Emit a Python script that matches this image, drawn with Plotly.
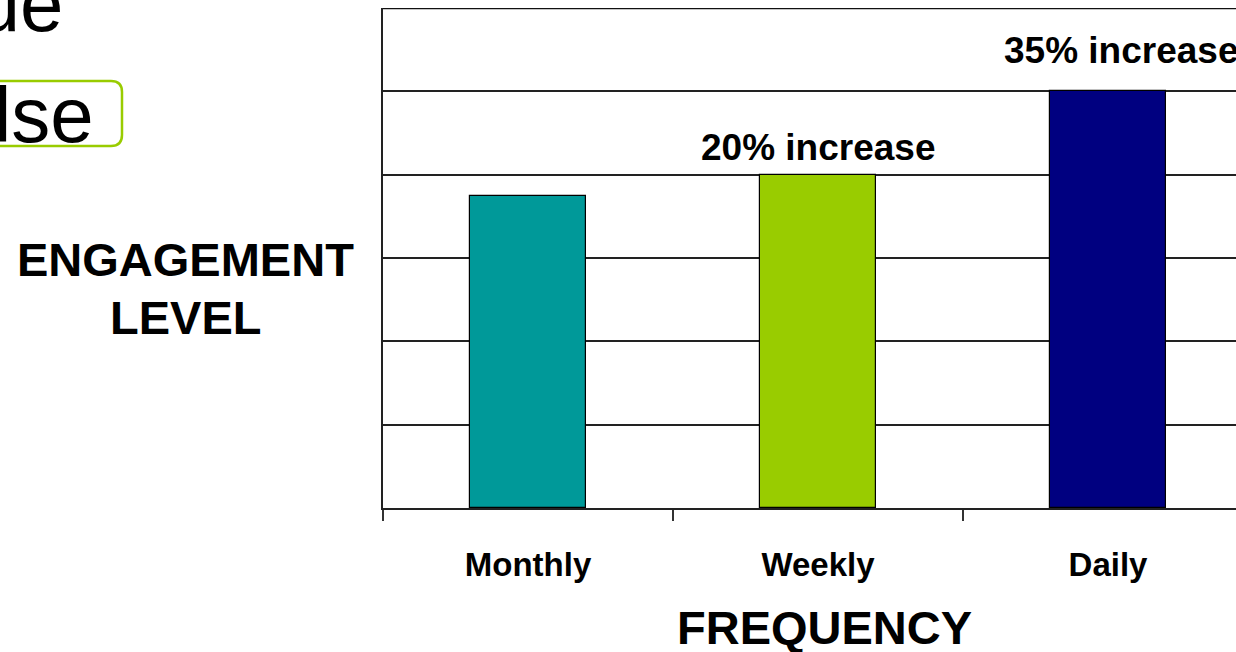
import plotly.graph_objects as go

# Engagement level by contact frequency
categories = ["Monthly", "Weekly", "Daily"]
engagement = [3.75, 4.0, 5.0]
bar_colors = ["#009999", "#99CC00", "#000080"]
increase_labels = ["", "20% increase", "35% increase"]
y_gridlines = [0, 1, 2, 3, 4, 5, 6]

W, H = 1236, 652
L, R, T, B = 383, 0, 8, 144
FONT = "Arial, Liberation Sans, sans-serif"

fig = go.Figure()
fig.add_trace(go.Bar(
    x=categories,
    y=engagement,
    width=0.4,
    marker=dict(color=bar_colors, line=dict(color="#000000", width=1.2)),
    hoverinfo="skip",
))

fig.update_layout(
    width=W, height=H,
    margin=dict(l=L, r=R, t=T, b=B, pad=0),
    paper_bgcolor="white", plot_bgcolor="white",
    showlegend=False,
    bargap=0,
    font=dict(family=FONT, color="black"),
)

# the category axis runs past the right edge of the page
fig.update_xaxes(
    type="category",
    range=[-0.5, 2.5 - 17 / 290],
    showline=True, linecolor="#222222", linewidth=2,
    ticks="outside", tickson="boundaries", ticklen=11, tickwidth=1.5, tickcolor="#333333",
    tickfont=dict(family=FONT, size=33, color="black", weight="bold"),
    ticklabelstandoff=26,
    showgrid=False,
)
fig.update_yaxes(
    range=[0, 6],
    tickvals=y_gridlines,
    showticklabels=False,
    ticks="",
    showgrid=True, gridcolor="#222222", gridwidth=1.5,
    showline=True, linecolor="#222222", linewidth=2,
    zeroline=False,
)

# top border of the plot area
fig.add_shape(type="line", xref="paper", yref="y", x0=0, x1=1, y0=6, y1=6,
              line=dict(color="#111111", width=2.5))

# increase labels above the weekly and daily bars
label_offsets = {"Weekly": (0, 5), "Daily": (13, 18)}
for cat, val, txt in zip(categories, engagement, increase_labels):
    if not txt:
        continue
    dx, dy = label_offsets[cat]
    fig.add_annotation(
        x=cat, y=val, text=txt, showarrow=False,
        xanchor="center", yanchor="bottom", xshift=dx, yshift=dy,
        font=dict(family=FONT, size=37, color="black", weight="bold"),
    )

plot_w = W - L - R
plot_h = H - T - B


def px_to_paper_x(px):
    return (px - L) / plot_w


def px_to_paper_y(py):
    return (H - B - py) / plot_h


# axis titles
fig.add_annotation(
    x=px_to_paper_x(824.5), y=px_to_paper_y(627), xref="paper", yref="paper",
    text="FREQUENCY", showarrow=False, xanchor="center", yanchor="middle",
    font=dict(family=FONT, size=47, color="black", weight="bold"),
)
for txt, cy in [("ENGAGEMENT", 259), ("LEVEL", 317)]:
    fig.add_annotation(
        x=px_to_paper_x(185.5), y=px_to_paper_y(cy), xref="paper", yref="paper",
        text=txt, showarrow=False, xanchor="center", yanchor="middle",
        font=dict(family=FONT, size=47, color="black", weight="bold"),
    )


# slide answer options beside the chart, the selected one in a rounded box
def rounded_rect_path(x0, y0, x1, y1, r):
    pts = [
        ("M", x0 + r, y0), ("L", x1 - r, y0), ("Q", x1, y0, x1, y0 + r),
        ("L", x1, y1 - r), ("Q", x1, y1, x1 - r, y1), ("L", x0 + r, y1),
        ("Q", x0, y1, x0, y1 - r), ("L", x0, y0 + r), ("Q", x0, y0, x0 + r, y0),
    ]
    out = []
    for p in pts:
        cmd, coords = p[0], p[1:]
        xy = []
        for i in range(0, len(coords), 2):
            xy.append(f"{px_to_paper_x(coords[i]):.5f},{px_to_paper_y(coords[i + 1]):.5f}")
        out.append(cmd + " " + " ".join(xy))
    return " ".join(out) + " Z"


fig.add_shape(type="path", xref="paper", yref="paper",
              path=rounded_rect_path(-60, 81, 122, 146, 11),
              line=dict(color="#99CC00", width=2.5), fillcolor="rgba(0,0,0,0)",
              layer="above")
for txt, right_px, base_px in [("True", 66, 34), ("False", 96, 145)]:
    fig.add_annotation(
        x=px_to_paper_x(right_px), y=px_to_paper_y(base_px + 16), xref="paper", yref="paper",
        text=txt, showarrow=False, xanchor="right", yanchor="bottom",
        font=dict(family=FONT, size=78, color="black"),
    )

fig.write_html("out.html")
